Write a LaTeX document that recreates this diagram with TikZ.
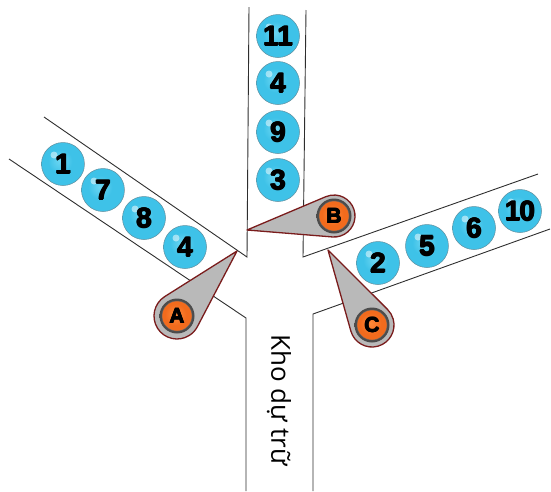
\documentclass[tikz,border=0pt]{standalone}
\usepackage{fontspec}
\setmainfont{Liberation Sans}
\newfontfamily\labelfont{Open Sans}
\usetikzlibrary{calc}
\newcommand\heavy[1]{\rlap{\kern0.55pt#1}\rlap{\kern-0.55pt#1}\rlap{\raisebox{0.55pt}{#1}}\rlap{\raisebox{-0.55pt}{#1}}#1}
\definecolor{ballhi}{HTML}{6DD6F2}
\definecolor{ballc}{HTML}{3EC2E8}
\definecolor{balldk}{HTML}{1A9FC8}
\definecolor{balledge}{HTML}{5E8E9E}
\definecolor{ptrfill}{HTML}{B9B9B9}
\definecolor{ptredge}{HTML}{7A1C1C}
\definecolor{orhi}{HTML}{FF8A3A}
\definecolor{orc}{HTML}{F26B1D}
\definecolor{ordk}{HTML}{B84410}
\definecolor{wallc}{HTML}{2E2E2E}
\pgfdeclareradialshading{cyanball}{\pgfpoint{-4bp}{4bp}}{color(0bp)=(ballhi); color(14bp)=(ballc); color(38bp)=(ballc); color(52bp)=(balldk); color(70bp)=(balldk)}
\pgfdeclareradialshading{orangeball}{\pgfpoint{-3bp}{3bp}}{color(0bp)=(orhi); color(18bp)=(orc); color(40bp)=(orc); color(52bp)=(ordk); color(70bp)=(ordk)}
\pgfdeclareradialshading{grayring}{\pgfpoint{0bp}{0bp}}{color(0bp)=(black!70); color(40bp)=(black!70); color(45bp)=(black!55); color(50bp)=(black!40); color(70bp)=(black!40)}
\tikzset{
  wall/.style={draw=wallc, line width=0.9pt},
  ballst/.style={circle, minimum size=43pt, inner sep=0pt, shading=cyanball,
    draw=balledge, line width=0.5pt,
    font=\bfseries\fontsize{28}{28}\selectfont,
    path picture={\fill[white, opacity=0.5] ($(path picture bounding box.center)+(-9,9)$) circle (3.5pt);}},
  ringst/.style={circle, minimum size=35pt, inner sep=0pt, shading=grayring},
  markst/.style={circle, minimum size=30pt, inner sep=0pt, shading=orangeball,
    draw=black!60, line width=0.4pt, font=\bfseries\fontsize{21}{21}\selectfont},
  ptrst/.style={fill=ptrfill, draw=ptredge, line width=1.3pt, line join=round},
}
\newcommand\drawpointer[3]{%
  \path[ptrst] let \p1=(#1), \p2=(#2),
    \n1={atan2(\y1-\y2,\x1-\x2)},
    \n2={acos(#3/veclen(\x1-\x2,\y1-\y2))} in
    (#1) -- ($(#2)+(\n1+\n2:#3)$)
    arc[start angle=\n1+\n2, end angle=\n1-\n2+360, radius=#3] -- cycle;}
\begin{document}
\begin{tikzpicture}[x=1pt, y=1pt]
\useasboundingbox (0,0) rectangle (551,-491);
% walls
\coordinate (ltop) at (44,-117);
\coordinate (lbot) at (9,-159);
\coordinate (tl) at (249,-7);
\coordinate (tr) at (306,-10);
\coordinate (jl) at (247,-257);
\coordinate (jr) at (303,-257);
\coordinate (rtop) at (538,-174);
\coordinate (rbot) at (550,-229);
\coordinate (bl) at (246,-318);
\coordinate (br) at (313,-314);
\coordinate (bl2) at (246,-491);
\coordinate (br2) at (313,-491);
\draw[wall] (ltop) -- (jl) -- (tl);
\draw[wall] (tr) -- (jr) -- (rtop);
\draw[wall] (lbot) -- (bl) -- (bl2);
\draw[wall] (rbot) -- (br) -- (br2);
% balls left
\node[ballst] (b1) at (63,-164) {\heavy{1}};
\node[ballst] (b7) at (103,-190) {\heavy{7}};
\node[ballst] (b8) at (144,-218) {\heavy{8}};
\node[ballst] (b4l) at (185,-247) {\heavy{4}};
% balls top
\node[ballst] (b11) at (278,-36) {\heavy{1\kern-1.5pt1}};
\node[ballst] (b4t) at (278,-83) {\heavy{4}};
\node[ballst] (b9) at (278,-132) {\heavy{9}};
\node[ballst] (b3) at (278,-180) {\heavy{3}};
% balls right
\node[ballst] (b2) at (378,-263) {\heavy{2}};
\node[ballst] (b5) at (427,-246) {\heavy{5}};
\node[ballst] (b6) at (474,-228) {\heavy{6}};
\node[ballst] (b10) at (520,-211) {\heavy{1\kern-1pt0}};
% pointers
\coordinate (ta) at (237,-251);
\coordinate (ca) at (177,-316);
\coordinate (tb) at (247,-230);
\coordinate (cb) at (334,-216);
\coordinate (tc) at (328,-250);
\coordinate (cc) at (372,-325);
\drawpointer{ta}{ca}{23}
\drawpointer{tb}{cb}{21}
\drawpointer{tc}{cc}{22}
\node[ringst] (ra) at (ca) {};
\node[ringst] (rb) at (cb) {};
\node[ringst] (rc) at (cc) {};
\node[markst] (pa) at (ca) {\heavy{A}};
\node[markst] (pb) at (cb) {\heavy{B}};
\node[markst] (pc) at (cc) {\heavy{C}};
% label
\node[rotate=-90, font=\labelfont\fontsize{26}{26}\selectfont, inner sep=0pt] (kho) at (279,-400) {Kho dự trữ};
\end{tikzpicture}
\end{document}
